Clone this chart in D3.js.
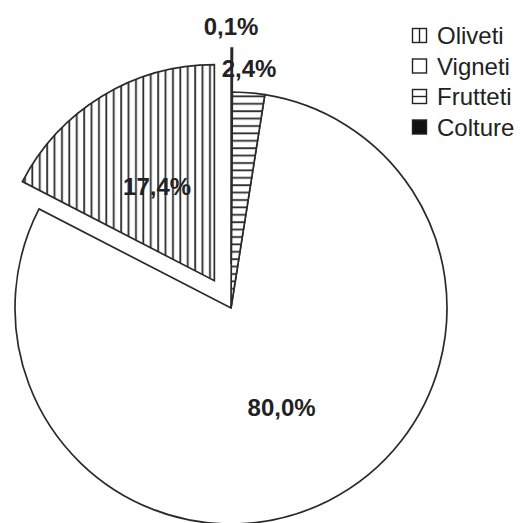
<!DOCTYPE html>
<html><head><meta charset="utf-8">
<script src="https://cdn.jsdelivr.net/npm/d3@7"></script>
<style>body{margin:0;background:#fff}svg{display:block}</style>
</head><body>
<svg id="c" width="521" height="523"></svg>
<script>
const categories = ["Oliveti", "Vigneti", "Frutteti", "Colture"];
const values = [17.4, 80.0, 2.4, 0.1];
const labels = ["17,4%", "80,0%", "2,4%", "0,1%"];
const fills = ["url(#vstripes)", "#fff", "url(#hstripes)", "#111"];
const explode = [32, 0, 0, 44];

const svg = d3.select("#c");
const defs = svg.append("defs");
const S = 7.4;
const vp = defs.append("pattern").attr("id","vstripes").attr("patternUnits","userSpaceOnUse")
  .attr("width",S).attr("height",S);
vp.append("rect").attr("width",S).attr("height",S).attr("fill","#fff");
vp.append("line").attr("x1",3).attr("x2",3).attr("y1",0).attr("y2",S).attr("stroke","#2a2a2a").attr("stroke-width",1.8);
const hp = defs.append("pattern").attr("id","hstripes").attr("patternUnits","userSpaceOnUse")
  .attr("width",S).attr("height",S);
hp.append("rect").attr("width",S).attr("height",S).attr("fill","#fff");
hp.append("line").attr("y1",3).attr("y2",3).attr("x1",0).attr("x2",S).attr("stroke","#2a2a2a").attr("stroke-width",1.8);

const cx = 231, cy = 308, R = 216;
const pie = d3.pie().sort(null).value(d => d).startAngle(0).endAngle(-2 * Math.PI);
const arcs = pie(values);
const arc = d3.arc().innerRadius(0).outerRadius(R);
const g = svg.append("g").attr("transform", `translate(${cx},${cy})`);

arcs.forEach((a, i) => {
  const mid = (a.startAngle + a.endAngle) / 2;
  const dx = explode[i] * Math.sin(mid), dy = -explode[i] * Math.cos(mid);
  g.append("path").attr("d", arc(a)).attr("transform", `translate(${dx},${dy})`)
    .attr("fill", fills[i]).attr("stroke", "#2a2a2a").attr("stroke-width", 1.7)
    .attr("stroke-linejoin","miter");
});

// labels
const labelR = [110, 112, 240, 282];
arcs.forEach((a, i) => {
  let mid = (a.startAngle + a.endAngle) / 2;
  if (i >= 2) mid = (i === 2 ? 4.3 : 0) * Math.PI / 180;
  const r = labelR[i] + (i < 2 ? explode[i] : 0);
  g.append("text").attr("x", r * Math.sin(mid)).attr("y", -r * Math.cos(mid))
    .attr("text-anchor","middle").attr("dominant-baseline","central")
    .attr("font-family","Liberation Sans, Arial, sans-serif").attr("font-weight","bold")
    .attr("font-size", 24).attr("fill","#222").text(labels[i]);
});

// legend
const lg = svg.append("g").attr("transform","translate(412,28)");
categories.forEach((c, i) => {
  const row = lg.append("g").attr("transform", `translate(0,${i * 30.5})`);
  row.append("rect").attr("x",0.5).attr("y",0.5).attr("width",14).attr("height",14)
    .attr("fill", i === 3 ? "#111" : "#fff").attr("stroke","#222").attr("stroke-width",1.4);
  if (i === 0) row.append("line").attr("x1",7.5).attr("x2",7.5).attr("y1",0.5).attr("y2",14.5).attr("stroke","#222").attr("stroke-width",1.4);
  if (i === 2) row.append("line").attr("y1",7.5).attr("y2",7.5).attr("x1",0.5).attr("x2",14.5).attr("stroke","#222").attr("stroke-width",1.4);
  row.append("text").attr("x",25).attr("y",7.5).attr("dominant-baseline","central")
    .attr("font-family","Liberation Sans, Arial, sans-serif").attr("font-size",24)
    .attr("fill","#222").text(c);
});
</script>
</body></html>
